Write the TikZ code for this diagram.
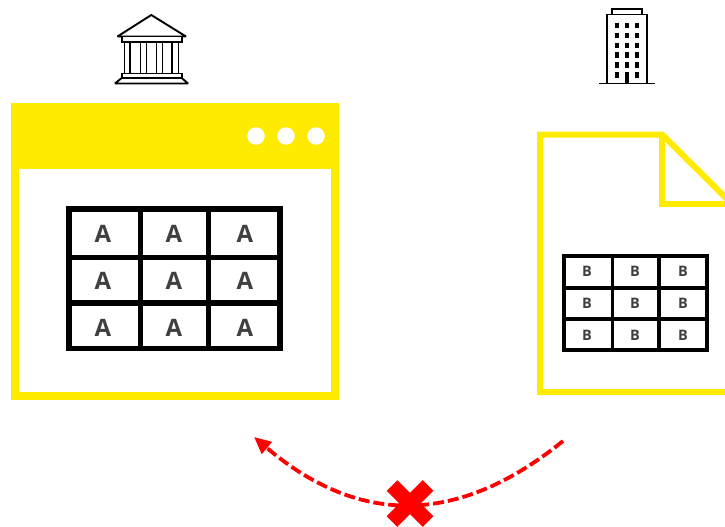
\documentclass[tikz,border=0pt]{standalone}
\usepackage{fontspec}
\setmainfont{Open Sans}
\usetikzlibrary{arrows.meta}
\definecolor{ylw}{HTML}{FFEB00}
\definecolor{txt}{HTML}{404040}
\tikzset{
  x=1pt,y=-1pt,
  frame/.style={draw=ylw,line width=6pt,miter limit=10},
  gridA/.style={draw=black,line width=5.6pt},
  gridB/.style={draw=black,line width=3.6pt},
  lblA/.style={text=txt,font=\fontsize{24}{24}\selectfont\bfseries,inner sep=0pt,anchor=center},
  lblB/.style={text=txt,font=\fontsize{14.5}{14.5}\selectfont\bfseries,inner sep=0pt,anchor=center},
  icon/.style={draw=black,line width=1.9pt,fill=white,line join=miter},
  win/.style={fill=black,draw=none},
  dot/.style={circle,fill=white,draw=none,minimum size=17.5pt,inner sep=0pt},
  flow/.style={draw=red,line width=3.8pt,dash pattern=on 11pt off 4pt,-{Triangle[length=17pt,width=15pt]}},
  cross/.style={draw=red,line width=15pt}
}
\begin{document}
\begin{tikzpicture}
\useasboundingbox (0,0) rectangle (725,527);
\clip (0,0) rectangle (725,527);
\fill[white] (0,0) rectangle (725,527);
% bank icon
\draw[icon,miter limit=2] (117.5,36.5) -- (151.3,15) -- (186,36.5) -- cycle;
\draw[icon] (121.7,36.5) rectangle (181.7,41.7);
\foreach \a/\b in {124.5/130,140.5/146.5,156.5/162.5,172/178.5}{\draw[icon] (\a,41.7) rectangle (\b,73.5);}
\draw[icon] (121.7,73.5) rectangle (181.7,78);
\draw[icon,miter limit=2] (121.7,78) -- (181.7,78) -- (188,83.5) -- (115,83.5) -- cycle;
% building icon
\draw[icon] (612,8.7) rectangle (642,14.5);
\draw[icon] (607,14.5) rectangle (647,83.5);
\draw[icon] (599.3,83.5) -- (654.7,83.5);
\foreach \y in {25.7,35.7,45.7,55.3,65,75}{
  \fill[win] (614.7,\y-2.8) rectangle ++(4,5.6);
  \fill[win] (634.7,\y-2.8) rectangle ++(4,5.6);}
\foreach \y in {25.7,35.7,45.7,55.3,65}{\fill[win] (624.7,\y-2.8) rectangle ++(4,5.6);}
\fill[win] (625,72.3) rectangle (629,83);
% browser window
\draw[ylw,line width=8pt] (15,107) rectangle (335,396);
\fill[ylw] (11,103) rectangle (339,169);
\node[dot] (d1) at (256,136) {};
\node[dot] (d2) at (286,136) {};
\node[dot] (d3) at (316,136) {};
% table A
\draw[gridA] (69,209) rectangle (280,348.5);
\draw[gridA] (140.5,209) -- (140.5,348.5) (208.5,209) -- (208.5,348.5)
  (69,257.5) -- (280,257.5) (69,303) -- (280,303);
\foreach \r/\y in {1/234,2/281,3/328}{
  \foreach \c/\x in {1/103,2/174,3/245}{
    \node[lblA] (a\r\c) at (\x,\y) {A};}}
% document
\draw[frame] (540,392) -- (760,392);
\draw[frame] (540,395) -- (540,134.5) -- (662,134.5) -- (732,204);
\draw[frame] (662,134.5) -- (662,204) -- (760,204);
% table B
\draw[gridB] (564.2,255.7) rectangle (706.8,349.7);
\draw[gridB] (612.5,255.7) -- (612.5,349.7) (658.7,255.7) -- (658.7,349.7)
  (564.2,288) -- (706.8,288) (564.2,319) -- (706.8,319);
\foreach \r/\y in {1/271.5,2/303.5,3/335.3}{
  \foreach \c/\x in {1/587,2/635,3/683}{
    \node[lblB] (b\r\c) at (\x,\y) {B};}}
% connector
\coordinate (from) at (563,441);
\coordinate (to) at (254,437);
\path[flow] (from) .. controls (458,526) and (359,526) .. (to);
% cross
\coordinate (xa) at (392,485.5);
\coordinate (xb) at (428,521.5);
\coordinate (xc) at (428,485.5);
\coordinate (xd) at (392,521.5);
\draw[cross] (xa) -- (xb);
\draw[cross] (xc) -- (xd);
\end{tikzpicture}
\end{document}
